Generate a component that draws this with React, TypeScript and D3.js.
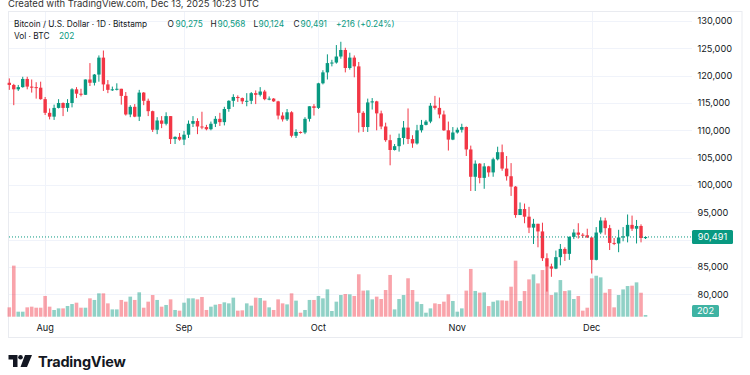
import React from "react";
import * as d3 from "d3";

const startDate = new Date(Date.UTC(2025, 6, 24));
const endDate = new Date(Date.UTC(2025, 11, 14));

const open = [118700,118300,117500,117900,119400,118000,117900,117800,115700,113200,112500,114100,115000,114100,115000,117500,116700,116500,119300,118700,120200,123300,118400,117400,117500,117600,116300,112900,114300,112500,116900,115400,113500,110100,111800,111200,112600,108400,108800,108300,109200,111200,111700,110700,110600,110200,111200,112100,111500,113900,115400,116100,115900,115300,115400,116800,116500,117100,115700,115800,115300,112700,112000,113300,109000,109700,109600,112100,114400,114100,118600,120600,122300,122400,123500,124700,121400,123300,121700,113200,110600,115100,115300,113100,110700,108200,106400,107100,108600,110500,108400,107600,110000,111000,111600,114500,114100,112900,110000,108300,109600,110100,110600,106500,101500,103900,101300,103400,102300,104700,106000,103000,101600,99700,94500,95600,94200,92200,92900,91500,86600,85100,84700,86800,88300,87400,90500,91300,90900,90800,90400,86300,91300,93500,92100,89400,89300,90400,90600,92700,92000,92500,90275];
const high = [119500,118500,118300,119800,119800,119300,118800,118900,116100,114000,114700,115700,115100,115700,117700,117900,117600,119300,122300,120300,123700,124600,119200,118000,118600,117600,117000,114600,114800,117400,117000,115800,113600,112400,112600,113300,112600,108900,109500,109900,111800,112600,112200,113400,111000,111600,112600,113200,114300,115500,116600,116400,116000,116800,117000,117300,117900,117400,116200,115900,115400,113300,113900,113500,110200,109800,112400,114400,114800,118700,121000,123900,122900,125600,126200,125100,124200,123700,122500,113500,115800,115900,115400,113600,111400,109200,107500,109400,111700,114000,109100,111000,111900,111900,115000,116300,116000,113600,111600,110600,110500,111200,110700,107200,104500,104000,104000,103500,105000,107000,107400,105300,104000,99800,96800,96600,96000,93800,92900,93100,87500,85600,88000,89200,88600,90600,91900,93000,91200,92000,90400,92300,94100,94000,92700,90300,91800,92300,94600,94400,93600,92800,90568];
const low = [117400,114600,117200,117800,117500,116900,115800,115600,112800,112000,111900,114000,112600,113400,114200,115900,116200,116500,118100,118200,118900,117200,116800,117200,117300,114700,112700,112400,112400,111700,114600,112600,109700,109300,110400,110900,107500,107500,108100,107300,108600,110600,109300,110200,110000,110000,110600,110800,110900,113400,114300,115200,114800,114400,114800,114800,116200,115500,115500,115200,112000,111600,111700,108700,108600,109400,109300,111600,112700,113900,118400,119300,121700,122200,123100,120600,121100,119700,109600,109700,109700,113800,110000,110200,107900,103600,106300,106100,107400,107500,106800,107400,109600,110900,111300,113800,112200,109900,106300,108200,109400,109600,105300,98900,98900,100300,99300,101500,101500,104500,102600,100800,98000,94000,94500,93000,91200,89200,88600,86100,80500,83200,84600,85300,86100,86300,90100,90200,90300,90300,83800,86200,91000,90900,88100,89000,87700,89700,89500,91600,89300,89500,90124];
const close = [118300,117500,117900,119400,118000,117800,117800,115700,113200,112500,114100,115000,114100,115000,117500,116700,116500,119300,118700,120200,123300,118400,117400,117500,117600,116300,112900,114300,112500,116900,115400,113500,110100,111800,111200,112600,108400,108800,108300,109200,111200,111700,110700,110600,110200,111200,112100,111500,113900,115400,116100,115900,115300,115400,116800,116500,117100,115700,115800,115300,112700,112000,113300,109000,109700,109600,112100,114400,114100,118600,120600,122300,122400,123500,124700,121400,123300,121700,113200,110600,115100,115300,113100,110700,108200,106400,107100,108600,110500,108400,107600,110000,111000,111600,114500,114100,112900,110000,108300,109600,110100,110600,106500,101500,103900,101300,103400,102300,104700,106000,103000,101600,99700,94500,95600,94200,92200,92900,91500,86600,85100,84700,86800,88300,87400,90500,91300,90900,90800,90400,86300,91300,93500,92100,89400,89300,90400,90600,92700,92000,92500,90300,90491];
const volume = [1100,6010,590,590,1100,1180,1060,1060,2440,1180,790,980,980,1260,1490,1650,1060,1060,2160,1970,2750,2750,1570,860,860,1970,1770,2360,1970,2870,1060,1770,2550,1970,1180,1380,2040,790,710,1650,2160,2160,2040,2320,790,1180,1410,1490,1690,1570,2240,710,750,1570,1300,2240,2200,1890,1100,790,2040,1570,1450,2750,1890,470,790,1970,1970,2440,2160,3220,670,1770,2550,2670,2630,2440,4990,3070,3100,2040,2360,2080,3140,4910,860,2080,2550,4520,3140,1770,1490,470,980,1570,1490,1770,2630,1850,590,980,3070,5620,3030,2830,2860,1250,1760,1920,1920,1880,3530,6590,1840,3020,4390,4980,3920,5490,6000,2550,2860,4310,3020,3100,2080,2430,710,1060,4510,4820,4630,2820,3250,1100,2550,3210,3610,3650,4040,2820,202];

const priceTicks = [80000, 85000, 90000, 95000, 100000, 105000, 110000, 115000, 120000, 125000, 130000];
const hiddenTickLabels = [90000];
const monthLabels = ["Aug", "Sep", "Oct", "Nov", "Dec"];
const monthDates = [
  new Date(Date.UTC(2025, 7, 1)),
  new Date(Date.UTC(2025, 8, 1)),
  new Date(Date.UTC(2025, 9, 1)),
  new Date(Date.UTC(2025, 10, 1)),
  new Date(Date.UTC(2025, 11, 1)),
];
const lastPrice = 90491;
const lastVolume = 202;

const UP = "#089981";
const DOWN = "#F23645";
const UP_VOL = "rgba(8,153,129,0.45)";
const DOWN_VOL = "rgba(242,54,69,0.45)";
const TEXT = "#131722";
const GRID = "#f0f3fa";
const FONT = "Inter, Roboto, 'Noto Sans', sans-serif";

export default function App() {
  const dates = d3.utcDay.range(startDate, endDate);
  const lastDate = dates[dates.length - 1];
  const x = d3.scaleUtc().domain([startDate, lastDate]).range([9.3, 645.5]);
  const y = d3.scaleLinear().domain([80000, 130000]).range([294.3, 21]);
  const v = d3.scaleLinear().domain([0, 6000]).range([316.7, 265.7]);
  const fmt = d3.format(",");
  const bodyW = 3.4;
  const volW = 3.6;

  return (
    <svg width={750} height={375} style={{ position: "absolute", left: 0, top: 0, background: "#fff" }} fontFamily={FONT}>
      <rect x={0} y={0} width={750} height={375} fill="#fff" />
      <text x={8} y={6.5} fontSize={9.5} fill="#333">Created with TradingView.com, Dec 13, 2025 10:23 UTC</text>
      <rect x={8.5} y={11.5} width={733.5} height={326} fill="none" stroke="#e9ebf0" strokeWidth={1} />

      {/* horizontal grid */}
      {priceTicks.map((t) => (
        <line key={"g" + t} x1={9} x2={692} y1={Math.round(y(t)) + 0.5} y2={Math.round(y(t)) + 0.5} stroke={GRID} strokeWidth={1} />
      ))}
      {/* vertical grid */}
      {monthDates.map((d, i) => (
        <line key={"vg" + i} x1={Math.round(x(d)) + 0.5} x2={Math.round(x(d)) + 0.5} y1={12} y2={318} stroke={GRID} strokeWidth={1} />
      ))}

      {/* volume */}
      {dates.map((d, i) => {
        const up = close[i] >= open[i];
        const top = v(volume[i]);
        return (
          <rect key={"v" + i} x={x(d) - volW / 2} y={top} width={volW} height={Math.max(0.8, v(0) - top)} fill={up ? UP_VOL : DOWN_VOL} />
        );
      })}

      {/* candles */}
      {dates.map((d, i) => {
        const up = close[i] >= open[i];
        const c = up ? UP : DOWN;
        const cx = x(d);
        const yT = y(Math.max(open[i], close[i]));
        const yB = y(Math.min(open[i], close[i]));
        return (
          <g key={"c" + i}>
            <line x1={cx} x2={cx} y1={y(high[i])} y2={y(low[i])} stroke={c} strokeWidth={1} />
            <rect x={cx - bodyW / 2} y={yT} width={bodyW} height={Math.max(1, yB - yT)} fill={c} />
          </g>
        );
      })}

      {/* last price line */}
      <line x1={9} x2={692} y1={y(lastPrice)} y2={y(lastPrice)} stroke={UP} strokeWidth={1} strokeDasharray="1 2" />

      {/* price axis */}
      {priceTicks.filter((t) => !hiddenTickLabels.includes(t)).map((t) => (
        <text key={"t" + t} x={697.5} y={y(t)} dy="0.35em" fontSize={9.2} fill={TEXT}>{fmt(t)}</text>
      ))}
      <rect x={692} y={y(lastPrice) - 7} width={41} height={14} rx={1.5} fill={UP} />
      <text x={712.5} y={y(lastPrice)} dy="0.36em" textAnchor="middle" fontSize={9.2} fill="#fff">{fmt(lastPrice)}</text>
      <rect x={692} y={305} width={27} height={12} rx={1.5} fill="#3fb3a3" />
      <text x={705.5} y={311} dy="0.36em" textAnchor="middle" fontSize={9.2} fill="#fff">{lastVolume}</text>

      {/* time axis */}
      {monthDates.map((d, i) => (
        <text key={"m" + i} x={x(d)} y={331} textAnchor="middle" fontSize={9.2} fill={TEXT}>{monthLabels[i]}</text>
      ))}

      {/* legend */}
      <text y={26.7} fontSize={8.3} fill={TEXT}>
        <tspan x={14}>Bitcoin / U.S. Dollar · 1D · Bitstamp</tspan>
        <tspan x={167.5}>O</tspan><tspan x={175.5} fill={UP}>{fmt(open[142])}</tspan>
        <tspan x={210.5}>H</tspan><tspan x={217.5} fill={UP}>{fmt(high[142])}</tspan>
        <tspan x={253.5}>L</tspan><tspan x={258.5} fill={UP}>{fmt(low[142])}</tspan>
        <tspan x={293.5}>C</tspan><tspan x={300.5} fill={UP}>{fmt(close[142])}</tspan>
        <tspan x={336} fill={UP}>+216 (+0.24%)</tspan>
      </text>
      <text y={38.8} fontSize={8.3} fill={TEXT}>
        <tspan x={14}>Vol · BTC</tspan>
        <tspan x={59} fill={UP}>{lastVolume}</tspan>
      </text>

      {/* TradingView logo */}
      <g fill="#131722">
        <path d="M8.5 355 H17.5 V367 H13 V359.5 H8.5 Z" />
        <circle cx={20.5} cy={357.3} r={2.3} />
        <path d="M25 355 H32 L27 367 H20.5 Z" />
      </g>
      <text x={38} y={366.5} fontSize={14.5} fontWeight={700} fill="#131722" letterSpacing={-0.2}>TradingView</text>
    </svg>
  );
}
